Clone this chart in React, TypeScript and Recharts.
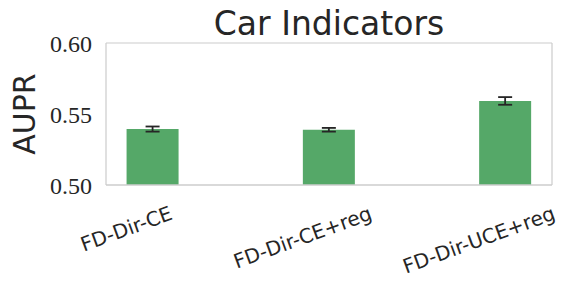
import { Bar, BarChart, ErrorBar, ReferenceLine, XAxis, YAxis } from "recharts";

const categories = ["FD-Dir-CE", "FD-Dir-CE+reg", "FD-Dir-UCE+reg"];
const aupr = [0.5394, 0.5389, 0.5592];
const auprErr = [0.0018, 0.0013, 0.0027];
const yTicks = [0.5, 0.55, 0.6];

// bars sit right of the tick (plt.bar with align="edge"), width 0.3 of a category
const BAR_W = 0.3;
const data = categories.map((name, i) => ({ name, pos: i + BAR_W / 2, aupr: aupr[i], err: auprErr[i] }));
const xHi = categories.length - 1 + BAR_W;
const xDomain = [-0.05 * xHi, xHi + 0.05 * xHi];
const yDomain = [yTicks[0], yTicks[yTicks.length - 1]];

const TEXT = "#262626";
const SPINE = "#cccccc";
const SANS = "'DejaVu Sans', sans-serif";
const SERIF = "'Liberation Serif', serif";

const LABEL_SIZE = 20;
const ROT = 20;

let ctx: CanvasRenderingContext2D | null = null;
function textWidth(s: string) {
    if (!ctx) ctx = document.createElement("canvas").getContext("2d");
    if (!ctx) return s.length * LABEL_SIZE * 0.55;
    ctx.font = `${LABEL_SIZE}px 'DejaVu Sans'`;
    return ctx.measureText(s).width;
}

function XTick(props: any) {
    const { x, y, payload } = props;
    const label = categories[payload.value] ?? "";
    const L = textWidth(label);
    const t = (ROT * Math.PI) / 180;
    const boxH = L * Math.sin(t) + LABEL_SIZE * Math.cos(t);
    const cy = y + boxH / 2;
    return (
        <text
            x={x}
            y={cy}
            textAnchor="middle"
            dominantBaseline="central"
            transform={`rotate(${-ROT}, ${x}, ${cy})`}
            fontFamily={SANS}
            fontSize={LABEL_SIZE}
            fill={TEXT}
        >
            {label}
        </text>
    );
}

export default function App() {
    return (
        <div style={{ position: "absolute", left: 0, top: 0, width: 570, height: 284 }}>
            <BarChart width={570} height={284} data={data} margin={{ top: 43, right: 18, left: 0, bottom: 0 }}>
                <XAxis
                    dataKey="pos"
                    type="number"
                    domain={xDomain}
                    ticks={[0, 1, 2]}
                    interval={0}
                    allowDataOverflow
                    tick={<XTick />}
                    tickLine={false}
                    tickSize={0}
                    tickMargin={18}
                    height={99}
                    axisLine={{ stroke: SPINE, strokeWidth: 1.5 }}
                />
                <YAxis
                    domain={yDomain}
                    ticks={yTicks}
                    allowDataOverflow
                    tickFormatter={(v) => v.toFixed(2)}
                    tick={{ fill: TEXT, fontFamily: SERIF, fontSize: 24 }}
                    tickLine={false}
                    tickSize={0}
                    tickMargin={14}
                    width={106}
                    axisLine={{ stroke: SPINE, strokeWidth: 1.2 }}
                    label={{
                        content: ({ viewBox }: any) => {
                            const cx = viewBox.x + 24;
                            const cy = viewBox.y + viewBox.height / 2;
                            return (
                                <text
                                    x={cx}
                                    y={cy}
                                    textAnchor="middle"
                                    dominantBaseline="central"
                                    transform={`rotate(-90, ${cx}, ${cy})`}
                                    fontFamily={SANS}
                                    fontSize={30}
                                    fill={TEXT}
                                >
                                    AUPR
                                </text>
                            );
                        },
                    }}
                />
                {/* top and right spines */}
                <ReferenceLine y={yDomain[1]} stroke={SPINE} strokeWidth={1.2} />
                <ReferenceLine x={xDomain[1]} stroke={SPINE} strokeWidth={1.2} />
                <Bar dataKey="aupr" fill="#55a868" barSize={52} isAnimationActive={false}>
                    <ErrorBar dataKey="err" width={7} stroke={TEXT} strokeWidth={1.8} />
                </Bar>
            </BarChart>
            <svg width={570} height={284} style={{ position: "absolute", left: 0, top: 0, pointerEvents: "none" }}>
                <text x={329} y={35} textAnchor="middle" fontFamily={SANS} fontSize={33} fill={TEXT}>
                    Car Indicators
                </text>
            </svg>
        </div>
    );
}
